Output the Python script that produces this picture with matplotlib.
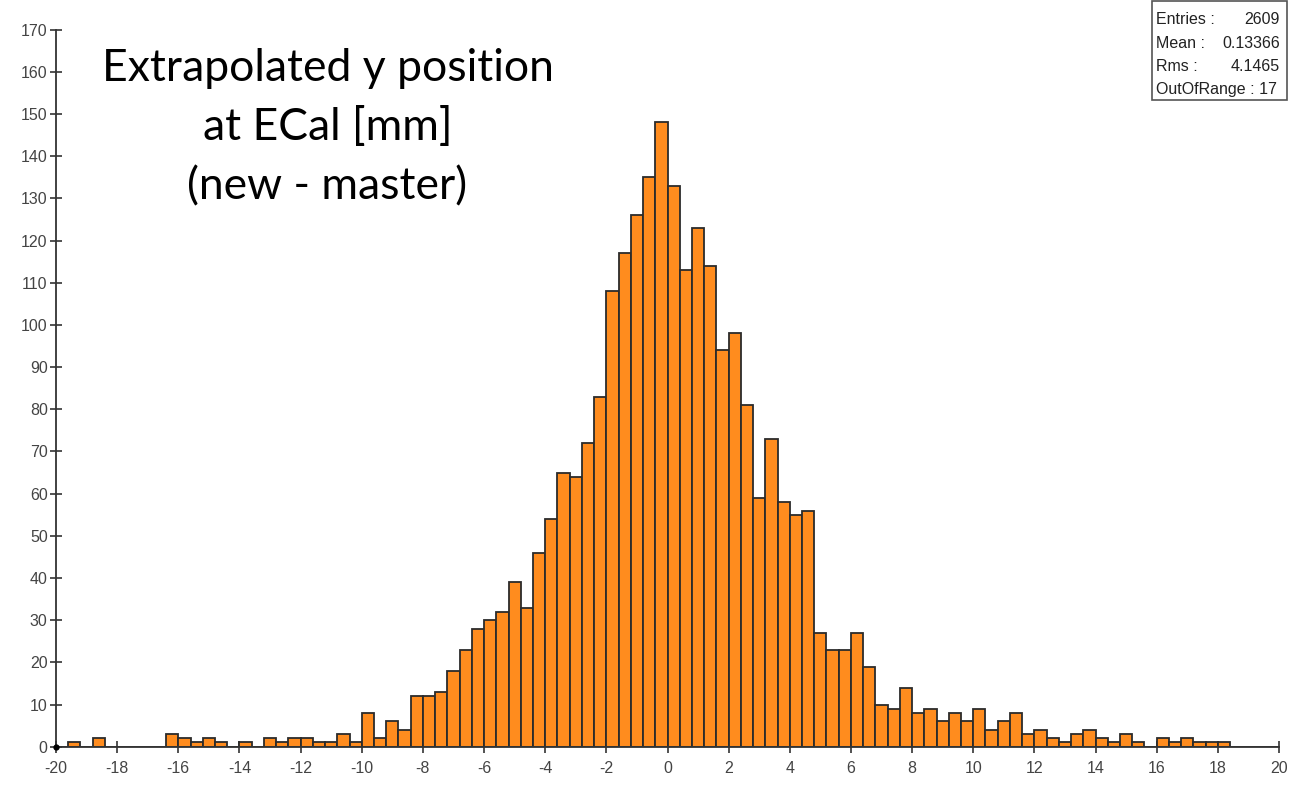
"""Histogram of the extrapolated y position at ECal (new - master)."""
import matplotlib
matplotlib.use("Agg")
import matplotlib.pyplot as plt
import numpy as np

# binning: 100 bins of 0.4 mm from -20 to 20
x_min, x_max, n_bins = -20.0, 20.0, 100

counts = [
    0, 1, 0, 2, 0, 0, 0, 0, 0, 3,
    2, 1, 2, 1, 0, 1, 0, 2, 1, 2,
    2, 1, 1, 3, 1, 8, 2, 6, 4, 12,
    12, 13, 18, 23, 28, 30, 32, 39, 33, 46,
    54, 65, 64, 72, 83, 108, 117, 126, 135, 148,
    133, 113, 123, 114, 94, 98, 81, 59, 73, 58,
    55, 56, 27, 23, 23, 27, 19, 10, 9, 14,
    8, 9, 6, 8, 6, 9, 4, 6, 8, 3,
    4, 2, 1, 3, 4, 2, 1, 3, 1, 0,
    2, 1, 2, 1, 1, 1, 0, 0, 0, 0,
]

stats_labels = ["Entries :", "Mean :", "Rms :", "OutOfRange : 17"]
stats_values = ["2609", "0.13366", "4.1465", ""]

title = "Extrapolated y position\nat ECal [mm]\n(new - master)"

x_ticks = np.arange(-20, 21, 2)
y_ticks = np.arange(0, 171, 10)

plt.rcParams["font.family"] = ["Liberation Sans", "DejaVu Sans"]

fig = plt.figure(figsize=(12.89, 7.87), dpi=100)
ax = fig.add_axes([56 / 1289, 40.3 / 787, 1223 / 1289, 717 / 787])

edges = np.linspace(x_min, x_max, n_bins + 1)
ax.bar(edges[:-1], counts, width=np.diff(edges), align="edge",
       color="#FF8C1E", edgecolor="#2b2b2b", linewidth=1.3, zorder=2)

ax.set_xlim(x_min, x_max)
ax.set_ylim(0, 170)
ax.set_xticks(x_ticks)
ax.set_yticks(y_ticks)
ax.set_xticklabels([str(v) for v in x_ticks])
ax.set_yticklabels([str(v) for v in y_ticks])

for side in ("top", "right"):
    ax.spines[side].set_visible(False)
for side in ("left", "bottom"):
    ax.spines[side].set_color("#333333")
    ax.spines[side].set_linewidth(1.3)
    ax.spines[side].set_zorder(3)
ax.tick_params(direction="inout", length=8, width=1.2, color="#333333",
               labelsize=11.5, labelcolor="#444444")
ax.tick_params(axis="x", pad=6)
ax.tick_params(axis="y", pad=2)
ax.plot([0], [0], "o", color="black", markersize=3.5,
        transform=ax.transAxes, clip_on=False, zorder=4)

fig.text(327.5 / 1289, 1 - 48 / 787, title, ha="center", va="top",
         fontsize=32, family=["Lato", "DejaVu Sans"], linespacing=1.55,
         color="black")

# statistics box in the upper right corner
bx0, by0, bx1, by1 = 1152, 1, 1287, 100
fig.patches.append(plt.Rectangle((bx0 / 1289, 1 - by1 / 787),
                                 (bx1 - bx0) / 1289, (by1 - by0) / 787,
                                 transform=fig.transFigure, fill=False,
                                 edgecolor="#555555", linewidth=1.2))
for i, (lab, val) in enumerate(zip(stats_labels, stats_values)):
    yy = 1 - (20 + 23.3 * i) / 787
    fig.text(1156 / 1289, yy, lab, ha="left", va="center",
             fontsize=11.5, color="#222222")
    if val:
        fig.text(1280 / 1289, yy, val, ha="right", va="center",
                 fontsize=11.5, color="#222222")

fig.savefig("out.png", dpi=100)
plt.close(fig)
